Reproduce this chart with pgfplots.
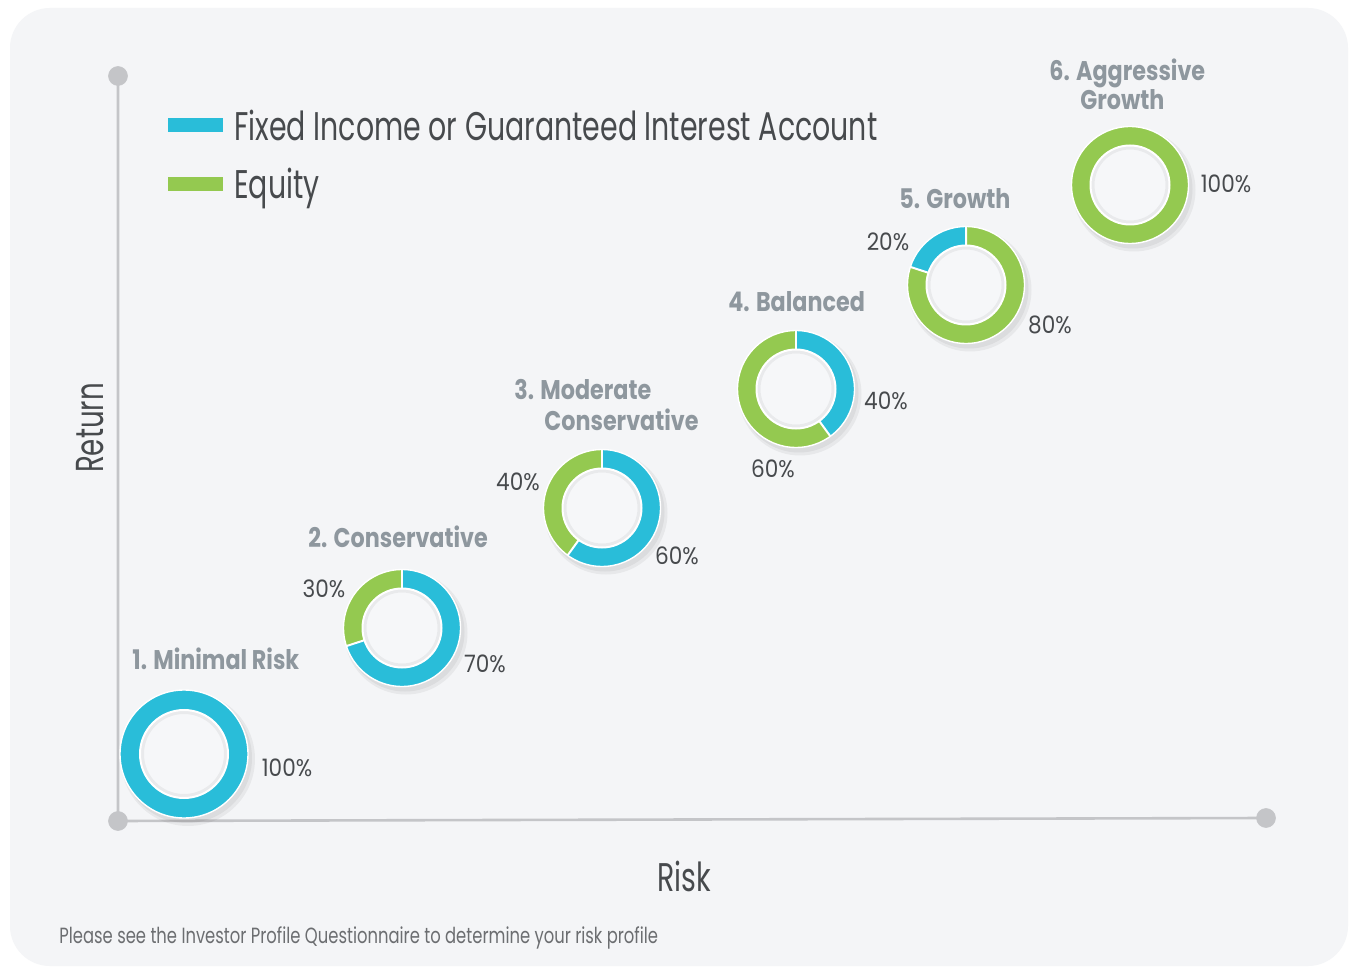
\documentclass[border=0pt]{standalone}
\usepackage{pgfplots}
\pgfplotsset{compat=1.18}
\usepackage{fontspec}
\setmainfont{Poppins}
\newfontfamily\condf[FakeStretch=0.71]{Poppins}
\newfontfamily\pctf[FakeStretch=0.90]{Poppins}
\newfontfamily\footf[FakeStretch=0.745]{Poppins}
\newfontfamily\titlef[FakeStretch=0.825]{Poppins}
\definecolor{bgc}{HTML}{F4F5F7}
\definecolor{fixc}{HTML}{29BDD9}
\definecolor{eqc}{HTML}{94C950}
\definecolor{axc}{HTML}{C4C5C8}
\definecolor{txtc}{HTML}{474A4D}
\definecolor{ttlc}{HTML}{8E979E}
\definecolor{innc}{HTML}{F6F7F9}

% full ring with shadow: x, y, outer r, inner r (pixels), colour
\newcommand{\ring}[5]{%
  \fill[black, opacity=0.05] ([shift={(2pt,-2.5pt)}]axis cs:#1,#2) circle[radius={(#3+3)*0.5pt}];
  \fill[black, opacity=0.05] ([shift={(1.5pt,-2pt)}]axis cs:#1,#2) circle[radius={(#3+1)*0.5pt}];
  \draw[#5, line width={(#3-#4)*0.5pt}] (axis cs:#1,#2) circle[radius={(#3+#4)*0.25pt}];
}
% fixed-income segment: x, y, share, outer r, inner r, start angle (runs clockwise)
\newcommand{\fixarc}[6]{%
  \draw[fixc, line width={(#4-#5)*0.5pt}] (axis cs:#1,#2) ++(#6:{(#4+#5)*0.25pt})
     arc[start angle=#6, end angle={#6-360*#3}, radius={(#4+#5)*0.25pt}];
  \draw[white, line width=1pt] (axis cs:#1,#2) ++({#6-360*#3}:{#5*0.5pt}) -- ++({#6-360*#3}:{(#4-#5)*0.5pt});
  \draw[white, line width=1pt] (axis cs:#1,#2) ++(#6:{#5*0.5pt}) -- ++(#6:{(#4-#5)*0.5pt});
}
% borders and hole: x, y, outer r, inner r
\newcommand{\finish}[4]{%
  \draw[white, line width=0.7pt] (axis cs:#1,#2) circle[radius={#3*0.5pt}];
  \fill[innc] (axis cs:#1,#2) circle[radius={#4*0.5pt}];
  \draw[black, opacity=0.05, line width=2pt] (axis cs:#1,#2) circle[radius={(#4-2)*0.5pt}];
  \draw[white, line width=1pt] (axis cs:#1,#2) circle[radius={#4*0.5pt}];
}

\begin{document}
\begin{tikzpicture}
\begin{axis}[
  at={(0,0)}, anchor=south west,
  width=675.5pt, height=484pt, scale only axis,
  xmin=0, xmax=1351, ymin=0, ymax=968, y dir=reverse,
  hide axis, clip=false,
]
% canvas and panel
\fill[white] (axis cs:0,0) rectangle (axis cs:1351,968);
\fill[bgc, rounded corners=20pt] (axis cs:10,8) rectangle (axis cs:1348,966);

% Risk / Return axes
\addplot[axc, line width=1.3pt] coordinates {(118,76) (118,821) (1266,818)};
\addplot[only marks, mark=*, mark size=4.7pt, color=axc, mark options={fill=axc, draw=axc}]
  coordinates {(118,76) (118,821) (1266,818)};

% 1. Minimal Risk: 100% fixed
\ring{184}{754}{64}{44}{fixc}
\finish{184}{754}{64}{44}
% 2. Conservative: 70% fixed / 30% equity
\ring{402}{628}{58.5}{39.5}{eqc}
\fixarc{402}{628}{0.7}{58.5}{39.5}{90}
\finish{402}{628}{58.5}{39.5}
% 3. Moderate Conservative: 60 / 40
\ring{602}{508}{58.5}{39.5}{eqc}
\fixarc{602}{508}{0.6}{58.5}{39.5}{90}
\finish{602}{508}{58.5}{39.5}
% 4. Balanced: 40 / 60
\ring{796}{389}{58.5}{39.5}{eqc}
\fixarc{796}{389}{0.4}{58.5}{39.5}{90}
\finish{796}{389}{58.5}{39.5}
% 5. Growth: 20 / 80
\ring{966}{285}{58.5}{39.5}{eqc}
\fixarc{966}{285}{0.2}{58.5}{39.5}{162}
\finish{966}{285}{58.5}{39.5}
% 6. Aggressive Growth: 100% equity
\ring{1130}{185}{58.5}{39.5}{eqc}
\finish{1130}{185}{58.5}{39.5}

% percentage labels
\begin{scope}[every node/.style={font=\pctf\fontsize{12}{14}\selectfont, text=txtc, inner sep=0pt}]
\node at (axis cs:287,768) {100\%};
\node at (axis cs:324,589) {30\%};
\node at (axis cs:485,664) {70\%};
\node at (axis cs:518,482) {40\%};
\node at (axis cs:677,556) {60\%};
\node at (axis cs:886,401) {40\%};
\node at (axis cs:773,469) {60\%};
\node at (axis cs:888,242) {20\%};
\node at (axis cs:1050,325) {80\%};
\node at (axis cs:1226,184) {100\%};
\end{scope}

% profile titles
\begin{scope}[every node/.style={font=\titlef\bfseries\fontsize{13.5}{16}\selectfont, text=ttlc, inner sep=0pt, anchor=base west}]
\node at (axis cs:132,669) {1. Minimal Risk};
\node at (axis cs:308,547) {2. Conservative};
\node at (axis cs:514,400) {3. Moderate};
\node at (axis cs:544,431) {Conservative};
\node at (axis cs:728,312) {4. Balanced};
\node at (axis cs:899,209) {5. Growth};
\node at (axis cs:1049,81) {6. Aggressive};
\node at (axis cs:1080,110) {Growth};
\end{scope}

% legend
\fill[fixc] (axis cs:168,118) rectangle (axis cs:223,132);
\fill[eqc] (axis cs:168,177) rectangle (axis cs:223,191);
\node[anchor=base west, inner sep=0pt, text=txtc, font=\condf\fontsize{20}{24}\selectfont] at (axis cs:234,141) {Fixed Income or Guaranteed Interest Account};
\node[anchor=base west, inner sep=0pt, text=txtc, font=\condf\fontsize{20}{24}\selectfont] at (axis cs:234,199) {Equity};

% axis titles
\node[rotate=90, inner sep=0pt, text=txtc, font=\condf\fontsize{19.5}{23}\selectfont] at (axis cs:90,428) {Return};
\node[inner sep=0pt, text=txtc, font=\condf\fontsize{20}{24}\selectfont] at (axis cs:684,876) {Risk};

% footnote
\node[anchor=base west, inner sep=0pt, text=txtc!80, font=\footf\fontsize{11}{13}\selectfont] at (axis cs:59,943) {Please see the Investor Profile Questionnaire to determine your risk profile};
\end{axis}
\end{tikzpicture}
\end{document}
